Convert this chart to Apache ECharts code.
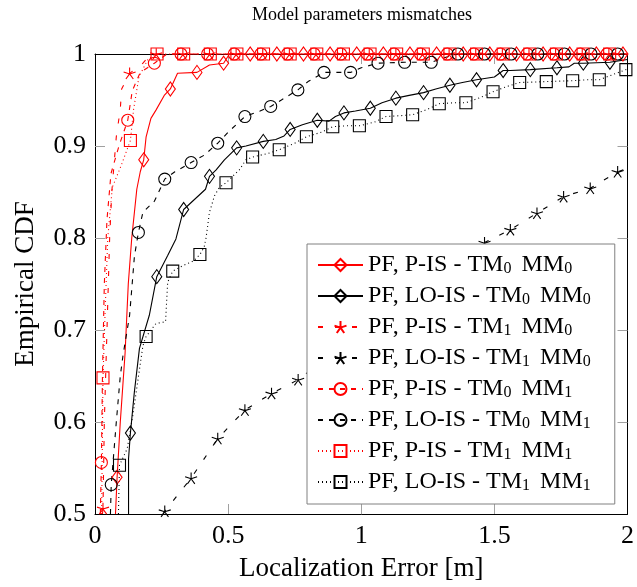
<!DOCTYPE html>
<html><head><meta charset="utf-8">
<script src="https://cdn.jsdelivr.net/npm/echarts@6/dist/echarts.min.js"></script>
<style>html,body{margin:0;padding:0;background:#fff}#c{width:637px;height:587px}</style>
</head><body><div id="c"></div>
<script>
// ---- axes ----
const xTickValues = [0.5, 1, 1.5];
const yTickValues = [0.6, 0.7, 0.8, 0.9];
const seriesNames = [
  'PF, P-IS - TM0 MM0', 'PF, LO-IS - TM0 MM0',
  'PF, P-IS - TM1 MM0', 'PF, LO-IS - TM1 MM0',
  'PF, P-IS - TM0 MM1', 'PF, LO-IS - TM0 MM1',
  'PF, P-IS - TM1 MM1', 'PF, LO-IS - TM1 MM1'
];

// ---- PF, P-IS - TM0 MM0 (red solid, diamonds) ----
const pIsTm0Mm0Line = [[0.077,0.5],[0.08,0.52],[0.095,0.6],[0.113,0.675],[0.125,0.75],[0.138,0.8],[0.157,0.853],[0.17,0.872],[0.192,0.91],[0.21,0.93],[0.229,0.939],[0.26,0.955],[0.31,0.979],[0.43,0.988],[0.505,1],[2,1]];
const pIsTm0Mm0Marks = [[0.083,0.54],[0.183,0.885],[0.283,0.962],[0.383,0.98],[0.483,0.99],[0.583,1],[0.683,1],[0.783,1],[0.883,1],[0.983,1],[1.083,1],[1.183,1],[1.283,1],[1.383,1],[1.483,1],[1.583,1],[1.683,1],[1.783,1],[1.883,1],[1.983,1]];

// ---- PF, LO-IS - TM0 MM0 (black solid, diamonds) ----
const loIsTm0Mm0Line = [[0.126,0.5],[0.126,0.56],[0.148,0.633],[0.167,0.68],[0.204,0.716],[0.273,0.781],[0.304,0.799],[0.415,0.853],[0.455,0.874],[0.486,0.885],[0.567,0.9],[0.679,0.907],[0.71,0.911],[0.779,0.923],[0.879,0.927],[0.903,0.932],[0.978,0.938],[1.078,0.947],[1.18,0.955],[1.28,0.962],[1.38,0.969],[1.5,0.975],[1.56,0.982],[1.78,0.986],[1.8,0.99],[2,0.994]];
const loIsTm0Mm0Marks = [[0.133,0.588],[0.232,0.758],[0.333,0.831],[0.43,0.867],[0.532,0.898],[0.632,0.905],[0.733,0.918],[0.835,0.928],[0.935,0.936],[1.034,0.941],[1.13,0.952],[1.234,0.958],[1.333,0.966],[1.433,0.972],[1.533,0.982],[1.635,0.983],[1.735,0.985],[1.834,0.99],[1.934,0.991]];

// ---- PF, P-IS - TM1 MM0 (red dashed, stars) ----
const pIsTm1Mm0Line = [[0.028,0.5],[0.035,0.6],[0.045,0.7],[0.055,0.8],[0.063,0.85],[0.08,0.91],[0.095,0.94],[0.1,0.962],[0.18,0.99],[0.21,1],[2,1]];
const pIsTm1Mm0Marks = [[0.03,0.506],[0.13,0.979],[0.23,1],[0.33,1],[0.43,1],[0.53,1],[0.63,1],[0.73,1],[0.83,1],[0.93,1],[1.03,1],[1.13,1],[1.23,1],[1.33,1],[1.43,1],[1.53,1],[1.63,1],[1.73,1],[1.83,1],[1.93,1]];

// ---- PF, LO-IS - TM1 MM0 (black dashed, stars) ----
const loIsTm1Mm0Line = [[0.255,0.5],[2,0.876]];
const loIsTm1Mm0Marks = [[0.262,0.503],[0.361,0.539],[0.461,0.582],[0.563,0.613],[0.663,0.631],[0.763,0.646],[0.863,0.668],[0.963,0.69],[1.063,0.712],[1.163,0.733],[1.263,0.755],[1.363,0.776],[1.463,0.795],[1.56,0.809],[1.66,0.827],[1.76,0.845],[1.86,0.854],[1.963,0.872]];

// ---- PF, P-IS - TM0 MM1 (red dashed, circles) ----
const pIsTm0Mm1Line = [[0.02,0.5],[0.028,0.65],[0.035,0.75],[0.045,0.82],[0.06,0.87],[0.09,0.9],[0.14,0.96],[0.17,0.98],[0.27,1],[2,1]];
const pIsTm0Mm1Marks = [[0.024,0.556],[0.123,0.928],[0.223,0.99],[0.323,1],[0.423,1],[0.523,1],[0.623,1],[0.723,1],[0.823,1],[0.923,1],[1.023,1],[1.123,1],[1.223,1],[1.323,1],[1.423,1],[1.523,1],[1.623,1],[1.723,1],[1.823,1],[1.923,1]];

// ---- PF, LO-IS - TM0 MM1 (black dashed, circles) ----
const loIsTm0Mm1Line = [[0.058,0.5],[0.08,0.6],[0.095,0.65],[0.105,0.672],[0.13,0.716],[0.148,0.78],[0.18,0.828],[0.223,0.84],[0.3,0.872],[0.41,0.89],[0.5,0.915],[0.62,0.938],[0.7,0.95],[0.8,0.97],[1.0,0.985],[1.3,0.995],[2,1]];
const loIsTm0Mm1Marks = [[0.061,0.532],[0.163,0.806],[0.262,0.864],[0.361,0.882],[0.461,0.903],[0.563,0.932],[0.66,0.943],[0.762,0.961],[0.86,0.98],[0.96,0.98],[1.063,0.99],[1.163,0.991],[1.263,0.991],[1.363,1],[1.463,1],[1.563,1],[1.663,1],[1.763,1],[1.863,1],[1.963,1]];

// ---- PF, P-IS - TM1 MM1 (red dotted, squares) ----
const pIsTm1Mm1Line = [[0.025,0.5],[0.038,0.72],[0.048,0.8],[0.065,0.855],[0.1,0.88],[0.145,0.94],[0.165,0.975],[0.2,0.995],[2,1]];
const pIsTm1Mm1Marks = [[0.03,0.648],[0.133,0.906],[0.233,1],[0.333,1],[0.433,1],[0.533,1],[0.633,1],[0.733,1],[0.833,1],[0.933,1],[1.033,1],[1.133,1],[1.233,1],[1.333,1],[1.433,1],[1.533,1],[1.633,1],[1.733,1],[1.833,1],[1.933,1]];

// ---- PF, LO-IS - TM1 MM1 (black dotted, squares) ----
const loIsTm1Mm1Line = [[0.088,0.5],[0.121,0.571],[0.142,0.607],[0.18,0.683],[0.229,0.707],[0.265,0.709],[0.273,0.752],[0.33,0.77],[0.37,0.775],[0.41,0.79],[0.417,0.8],[0.43,0.828],[0.449,0.846],[0.467,0.855],[0.542,0.874],[0.567,0.885],[0.65,0.892],[0.75,0.903],[0.85,0.915],[0.95,0.922],[1.05,0.926],[1.15,0.933],[1.25,0.94],[1.35,0.947],[1.45,0.953],[1.55,0.965],[1.85,0.972],[2,0.985]];
const loIsTm1Mm1Marks = [[0.092,0.553],[0.192,0.693],[0.292,0.764],[0.394,0.782],[0.492,0.86],[0.592,0.888],[0.692,0.896],[0.794,0.91],[0.893,0.921],[0.993,0.922],[1.093,0.932],[1.193,0.934],[1.293,0.946],[1.393,0.947],[1.495,0.959],[1.595,0.969],[1.695,0.97],[1.794,0.971],[1.894,0.972],[1.994,0.983]];

const RED = '#ff0000', BLACK = '#000000';
const FONT = 'Liberation Serif';
const STAR = 'path://M0,0L0,-10M0,0L9.51,-3.09M0,0L5.88,8.09M0,0L-5.88,8.09M0,0L-9.51,-3.09';

function mk(name, line, marks, color, dash, symbol, size) {
  const pts = line.map(p => ({ value: p, symbol: 'none' }))
    .concat(marks.map(p => ({ value: p })));
  pts.sort((a, b) => (a.value[0] - b.value[0]) || (a.value[1] - b.value[1]));
  return {
    name, type: 'line', data: pts, symbol, symbolSize: size, symbolKeepAspect: true,
    showSymbol: true, showAllSymbol: true, clip: false, animation: false, silent: true,
    lineStyle: { color, width: 1.1, type: dash },
    itemStyle: { color: 'rgba(255,255,255,0)', borderColor: color, borderWidth: 1.1 },
    emphasis: { disabled: true }
  };
}

const series = [
  mk(seriesNames[0], pIsTm0Mm0Line, pIsTm0Mm0Marks, RED, 'solid', 'diamond', [10, 14]),
  mk(seriesNames[1], loIsTm0Mm0Line, loIsTm0Mm0Marks, BLACK, 'solid', 'diamond', [10, 14]),
  mk(seriesNames[2], pIsTm1Mm0Line, pIsTm1Mm0Marks, RED, [5, 12], STAR, 12),
  mk(seriesNames[3], loIsTm1Mm0Line, loIsTm1Mm0Marks, BLACK, [5, 12], STAR, 12),
  mk(seriesNames[4], pIsTm0Mm1Line, pIsTm0Mm1Marks, RED, [5, 6], 'circle', 12),
  mk(seriesNames[5], loIsTm0Mm1Line, loIsTm0Mm1Marks, BLACK, [5, 6], 'circle', 12),
  mk(seriesNames[6], pIsTm1Mm1Line, pIsTm1Mm1Marks, RED, [1, 3], 'rect', 12),
  mk(seriesNames[7], loIsTm1Mm1Line, loIsTm1Mm1Marks, BLACK, [1, 3], 'rect', 12)
];

const tickStyle = { show: true, inside: true, length: 10, lineStyle: { color: '#a0a0a0', width: 1 } };
const lineStyleAxis = { show: true, onZero: false, lineStyle: { color: '#000', width: 1 } };
const fmt = v => String(Math.round(v * 10) / 10);

const chart = echarts.init(document.getElementById('c'), null, { renderer: 'canvas' });
chart.setOption({
  animation: false,
  backgroundColor: '#fff',
  grid: { left: 95, right: 7, top: 54, bottom: 71, containLabel: false },
  graphic: [{
    type: 'text', x: 362, y: 15,
    style: { text: 'Model parameters mismatches', fontFamily: FONT, fontSize: 18, fill: '#000', textAlign: 'center', textVerticalAlign: 'middle' }
  }],
  xAxis: [{
    type: 'value', position: 'bottom', min: 0, max: 2, interval: 0.5,
    axisLine: lineStyleAxis, axisTick: Object.assign({ customValues: xTickValues }, tickStyle),
    splitLine: { show: false },
    axisLabel: { fontFamily: FONT, fontSize: 26, color: '#000', margin: 9, formatter: fmt },
    name: 'Localization Error [m]', nameLocation: 'middle', nameGap: 41,
    nameTextStyle: { fontFamily: FONT, fontSize: 27, color: '#000' }
  }, {
    type: 'value', position: 'top', min: 0, max: 2, interval: 0.5,
    axisLine: lineStyleAxis, axisTick: Object.assign({ customValues: xTickValues }, tickStyle),
    splitLine: { show: false }, axisLabel: { show: false }
  }],
  yAxis: [{
    type: 'value', position: 'left', min: 0.5, max: 1, interval: 0.1,
    axisLine: lineStyleAxis, axisTick: Object.assign({ customValues: yTickValues }, tickStyle),
    splitLine: { show: false },
    axisLabel: { fontFamily: FONT, fontSize: 26, color: '#000', margin: 9, formatter: fmt },
    name: 'Empirical CDF', nameLocation: 'middle', nameGap: 56, nameRotate: 90,
    nameTextStyle: { fontFamily: FONT, fontSize: 27, color: '#000' }
  }, {
    type: 'value', position: 'right', min: 0.5, max: 1, interval: 0.1,
    axisLine: lineStyleAxis, axisTick: Object.assign({ customValues: yTickValues }, tickStyle),
    splitLine: { show: false }, axisLabel: { show: false }
  }],
  legend: {
    orient: 'vertical', left: 307, top: 244,
    padding: [9, 24, 10, 10], itemGap: 7, itemWidth: 45, itemHeight: 15,
    backgroundColor: '#fff', borderColor: '#808080', borderWidth: 1, borderRadius: 0,
    selectedMode: false,
    data: seriesNames,
    formatter: function (name) {
      const m = name.match(/^(.*TM)(\d) MM(\d)$/);
      return '{t|' + m[1] + '}{s|' + m[2] + '}{g|MM}{s|' + m[3] + '}';
    },
    textStyle: {
      fontFamily: FONT, color: '#000',
      rich: {
        t: { fontFamily: FONT, fontSize: 24, lineHeight: 24, color: '#000' },
        g: { fontFamily: FONT, fontSize: 24, lineHeight: 24, color: '#000', padding: [0, 0, 0, 10] },
        s: { fontFamily: FONT, fontSize: 16, lineHeight: 12, verticalAlign: 'bottom', color: '#000' }
      }
    }
  },
  series
});
</script></body></html>
